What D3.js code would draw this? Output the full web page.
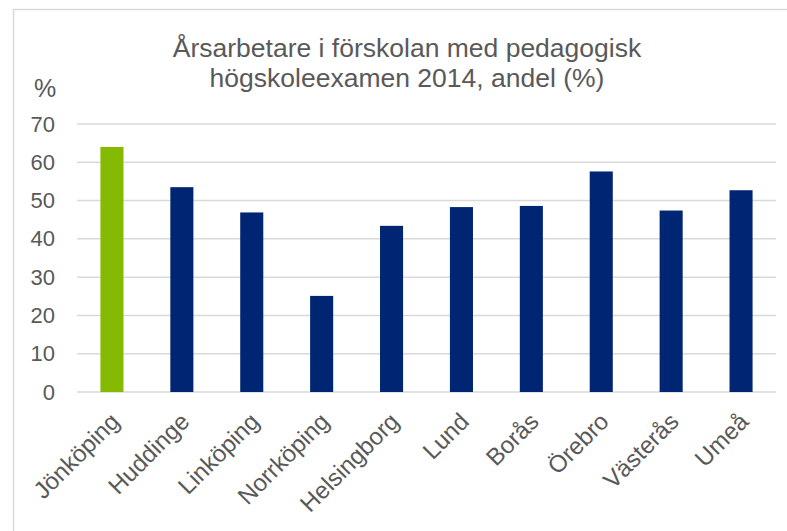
<!DOCTYPE html>
<html><head><meta charset="utf-8">
<script src="https://cdn.jsdelivr.net/npm/d3@7"></script>
<style>body{margin:0;background:#fff}svg{display:block}text{font-family:"Liberation Sans",Arial,sans-serif;fill:#595959}</style>
</head><body><svg id="c" width="787" height="531"></svg>
<script>
const categories = ["Jönköping","Huddinge","Linköping","Norrköping","Helsingborg","Lund","Borås","Örebro","Västerås","Umeå"];
const values = [64.0,53.5,46.9,25.1,43.4,48.3,48.6,57.6,47.4,52.7];
const highlight = ["Jönköping"];
const yTicks = [0,10,20,30,40,50,60,70];
const titleLines = ["Årsarbetare i förskolan med pedagogisk","högskoleexamen 2014, andel (%)"];
const yUnit = "%";

const svg = d3.select("#c");
const m = {left:77, right:11, top:124, bottom:139};
const W = 787, H = 531;
svg.append("rect").attr("x",13.5).attr("y",9.5).attr("width",800).attr("height",600)
  .attr("fill","none").attr("stroke","#d9d9d9").attr("stroke-width",1.5);

const x = d3.scaleBand().domain(categories).range([m.left, W-m.right]).paddingInner(0.67).paddingOuter(0.335);
const y = d3.scaleLinear().domain([0,70]).range([H-m.bottom, m.top]);

svg.append("g").selectAll("line").data(yTicks).join("line")
  .attr("x1",m.left).attr("x2",W-m.right)
  .attr("y1",d=>y(d)).attr("y2",d=>y(d))
  .attr("stroke","#d9d9d9").attr("stroke-width",1.5);

const yAxis = d3.axisLeft(y).tickValues(yTicks).tickSize(0).tickPadding(22);
const ga = svg.append("g").attr("transform",`translate(${m.left},0)`).call(yAxis);
ga.select(".domain").remove();
ga.selectAll("text").style("font-size","22px").attr("fill","#595959").style("font-family","Liberation Sans, Arial, sans-serif");

svg.append("g").selectAll("rect").data(categories).join("rect")
  .attr("x",d=>x(d)).attr("width",x.bandwidth())
  .attr("y",(d,i)=>y(values[i])).attr("height",(d,i)=>y(0)-y(values[i]))
  .attr("fill",d=>highlight.includes(d)?"#84bb00":"#002673");

const xAxis = d3.axisBottom(x).tickSize(0).tickPadding(0);
const gx = svg.append("g").attr("transform",`translate(0,${y(0)})`).call(xAxis);
gx.select(".domain").remove();
gx.selectAll("text")
  .style("font-size","24px").attr("fill","#595959").style("font-family","Liberation Sans, Arial, sans-serif")
  .attr("text-anchor","end").attr("dy",null).attr("y",0)
  .attr("transform","translate(9,31) rotate(-45)");

svg.append("text").attr("x",407).attr("y",57).attr("text-anchor","middle").style("font-size","26.5px")
  .selectAll("tspan").data(titleLines).join("tspan")
  .attr("x",407).attr("dy",(d,i)=>i?30:0).text(d=>d);

svg.append("text").attr("x",34).attr("y",97).style("font-size","25px").text(yUnit);
</script></body></html>
